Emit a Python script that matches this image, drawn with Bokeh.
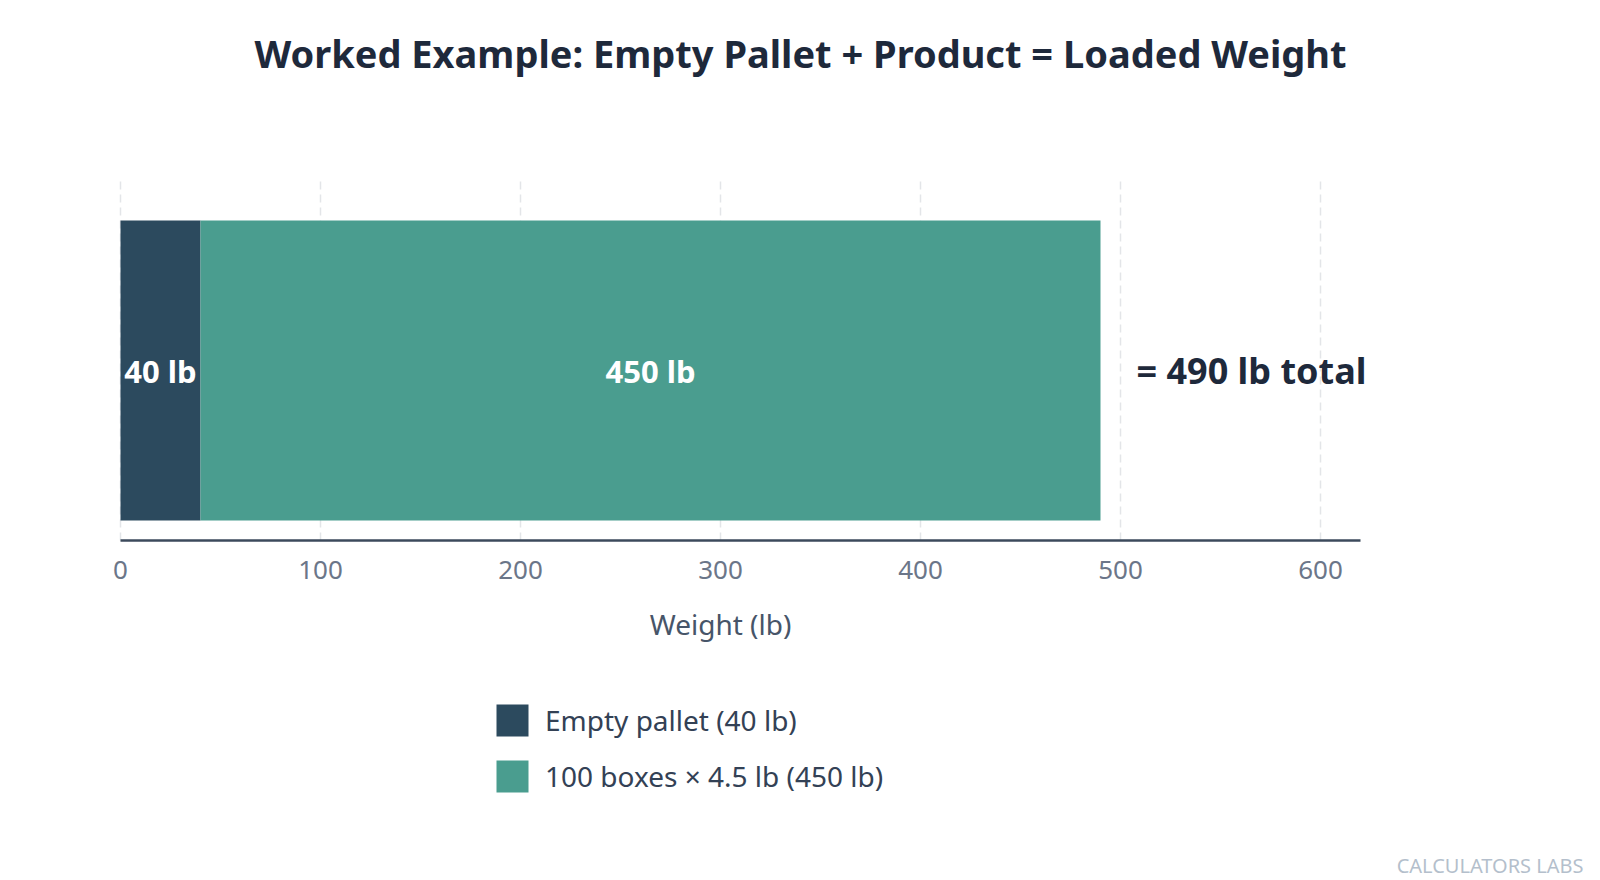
import numpy as np
from bokeh.plotting import figure
from bokeh.models import Range1d, Label, Legend, LegendItem, FixedTicker, ColumnDataSource
from bokeh.core.properties import value
from bokeh.embed import file_html
from bokeh.resources import INLINE

# ---- data ----
components = ["Empty pallet (40 lb)", "100 boxes \u00d7 4.5 lb (450 lb)"]
weights = [40, 450]
segment_labels = ["40 lb", "450 lb"]
colors = ["#2c4a5e", "#4a9d8f"]
x_ticks = [0, 100, 200, 300, 400, 500, 600]
axis_max = 620
title_text = "Worked Example: Empty Pallet + Product = Loaded Weight"
axis_title = "Weight (lb)"
total_label = "= 490 lb total"
watermark = "CALCULATORS LABS"

FONT = "Noto Sans"
W, H = 1600, 880
total = float(sum(weights))
rights = np.cumsum(weights).astype(float)
lefts = rights - np.array(weights, dtype=float)

# layout: whole canvas is the frame; axis is pinned inside it
PX_X = 2.0          # px per lb
X0 = 120            # px of 0 lb
PX_Y = 375.0        # px per y unit
YC = 370            # px of bar centre (from top)
x_range = Range1d(-X0 / PX_X, (W - X0) / PX_X)
y_range = Range1d(-(H - YC) / PX_Y, YC / PX_Y)
axis_y = -(540 - YC) / PX_Y
grid_top = (YC - 178) / PX_Y

p = figure(width=W, height=H, output_backend="svg", toolbar_location=None,
           x_range=x_range, y_range=y_range,
           min_border_left=0, min_border_right=0, min_border_top=0, min_border_bottom=0)
p.title.visible = False
p.outline_line_color = None
p.background_fill_color = "white"
p.border_fill_color = "white"

# grid
p.ygrid.visible = False
p.xgrid.grid_line_color = "#e3e5e8"
p.xgrid.grid_line_width = 1.5
p.xgrid.grid_line_dash = "8 5"
p.xgrid.cross_bounds = (axis_y, grid_top)
p.yaxis.visible = False

# x axis
xa = p.xaxis[0]
xa.fixed_location = axis_y
xa.bounds = (0, axis_max)
xa.ticker = FixedTicker(ticks=x_ticks)
xa.axis_line_color = "#3c4a5c"
xa.axis_line_width = 2.5
xa.major_tick_out = 0
xa.major_tick_in = 0
xa.minor_tick_out = 0
xa.minor_tick_in = 0
xa.major_tick_line_color = None
xa.minor_tick_line_color = None
xa.major_label_text_font = FONT
xa.major_label_text_font_size = "26px"
xa.major_label_text_color = "#6b7689"
xa.major_label_standoff = 20

items = []
for i in range(len(weights)):
    src = ColumnDataSource(dict(y=[0], left=[lefts[i]], right=[rights[i]]))
    r = p.hbar(y="y", left="left", right="right", height=0.8, source=src,
               fill_color=colors[i], line_color=None)
    items.append(LegendItem(label=components[i], renderers=[r]))

seg_src = ColumnDataSource(dict(x=(lefts + rights) / 2, y=[0] * len(weights),
                                t=segment_labels))
p.text(x="x", y="y", text="t", source=seg_src, text_align="center",
       text_baseline="middle", text_color="white",
       text_font=value(FONT), text_font_style="bold", text_font_size="31px")

tot_src = ColumnDataSource(dict(x=[total], y=[0], t=[total_label]))
p.text(x="x", y="y", text="t", source=tot_src, text_align="left",
       text_baseline="middle", text_color="#1e293b", x_offset=36,
       text_font=value(FONT), text_font_style="bold", text_font_size="36px")

# axis title, centred under the tick span
p.add_layout(Label(x=(x_ticks[0] + x_ticks[-1]) / 2, y=H - 623, x_units="data",
                   y_units="screen", text=axis_title, text_align="center",
                   text_baseline="middle", text_color="#475569",
                   text_font=FONT, text_font_size="28px"))

legend = Legend(items=items, location=(492, 84), glyph_width=40, glyph_height=40,
                label_text_font=FONT, label_text_font_size="28px",
                label_text_color="#334155", label_standoff=13, spacing=16,
                padding=0, margin=0, border_line_alpha=0, background_fill_alpha=0)
p.add_layout(legend)

p.add_layout(Label(x=800, y=H - 52, x_units="screen", y_units="screen", text=title_text,
                   text_align="center", text_baseline="middle", text_color="#1e293b",
                   text_font=FONT, text_font_style="bold", text_font_size="38px"))
p.add_layout(Label(x=1583, y=H - 865, x_units="screen", y_units="screen", text=watermark,
                   text_align="right", text_baseline="middle", text_color="#b4bfcc",
                   text_font=FONT, text_font_size="20px"))

open("out.html", "w").write(file_html(p, INLINE))
